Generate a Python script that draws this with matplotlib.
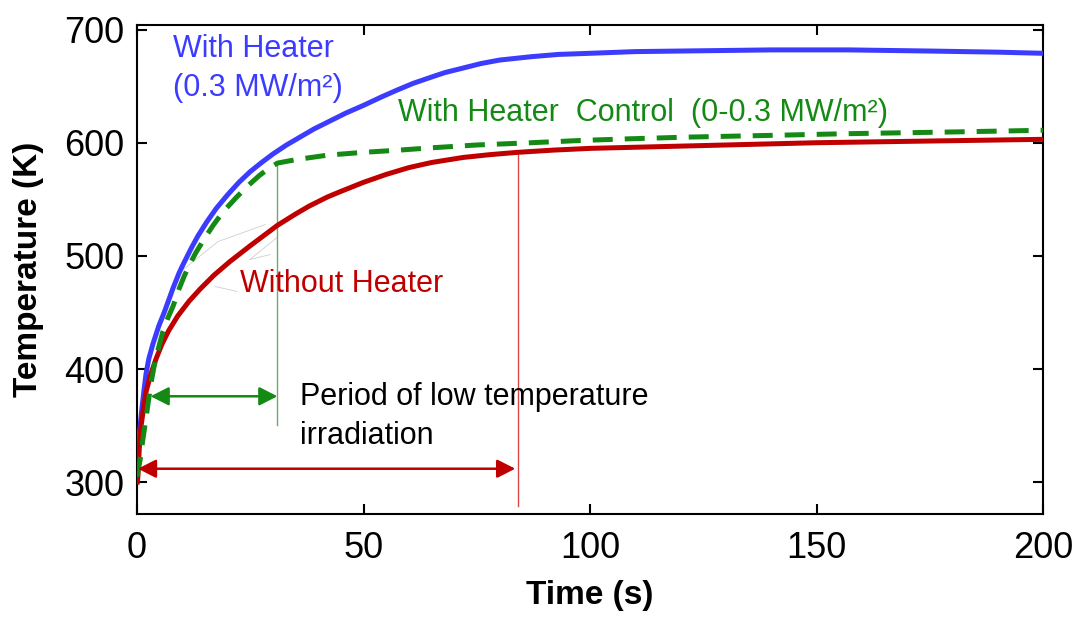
import matplotlib
matplotlib.use("Agg")
import matplotlib.pyplot as plt

# ---- data ----
t_heater = [0, 0.4, 1, 1.5, 2, 2.6, 3.5, 4.8, 6, 7, 8, 8.5, 9.3, 10, 11, 12, 13.5, 15.4,
            17.5, 20, 22.5, 25, 27.5, 30, 33, 36, 39, 43, 46, 50, 54, 57.4, 61, 65, 68,
            72, 76, 80, 87, 93, 100, 110, 120, 140, 157, 175, 190, 200]
T_heater = [318, 338, 362, 380, 396, 409, 422, 438, 450, 461, 472, 477, 485, 491, 499, 507, 518, 530,
            542, 554, 565, 574.5, 582.5, 590, 598, 605, 612, 620, 626, 633, 640.5, 646.5, 652.5, 658, 662,
            666, 670, 673, 676, 678, 679, 680.5, 681, 682, 682, 681, 680, 679]

t_control = [0, 0.7, 1.3, 2, 2.6, 3.2, 3.8, 4.7, 5.7, 6.8, 8, 9.2, 10.4, 11.7, 13, 15, 16.8,
             19, 22, 24.5, 27, 29, 31, 35, 42, 50, 58, 65, 75, 87, 98, 109, 122, 140, 157,
             180, 200]
T_control = [305, 320, 338, 357, 374, 390, 403, 418, 433, 445, 456, 470, 482, 493, 503, 516, 527,
             539, 552, 562, 571, 577, 582, 585, 589, 591.5, 593.5, 595.5, 598, 600, 602, 603.5, 605,
             606.5, 608, 609.5, 611]

t_noheater = [0, 0.2, 0.5, 0.9, 1.5, 2, 3, 4.2, 5.5, 7, 9, 11.5, 14, 17, 20.5, 25, 28, 31,
              35, 38, 42, 45, 50, 55, 60, 65, 72, 78, 84, 92, 100, 110, 120, 135, 150, 175, 200]
T_noheater = [298, 305, 330, 350, 367, 380, 395, 409, 422, 434, 447, 460, 471, 483, 495, 509, 518, 527,
              537, 544, 552, 557, 565, 572, 578, 582.5, 587, 589.5, 591.5, 593.5, 595, 596, 597,
              598.5, 600, 601.5, 603]

# period markers
t_green_end = 31
T_green_line = (351, 582)
t_red_end = 84
T_red_line = (279, 591)
green_arrow = (3, 31, 376)     # t_start, t_end, T
red_arrow = (0.2, 83.5, 312)

# faint leader lines seen in the reference
leaders = [
    ([10.2, 17.9, 28.3], [488, 512.7, 527.7]),
    ([24.9, 30.9], [496.8, 516.2]),
    ([24.9, 29.4], [496.8, 501.2]),
    ([17.2, 22.1], [473, 468.6]),
]

x_ticks = [0, 50, 100, 150, 200]
y_ticks = [300, 400, 500, 600, 700]

BLUE = "#3c3cff"
RED = "#c00000"
GREEN = "#148a14"

plt.rcParams['font.family'] = ['Liberation Sans', 'DejaVu Sans']

fig = plt.figure(figsize=(10.77, 6.19), dpi=100)
ax = fig.add_axes([137 / 1077, 1 - 514 / 619, (1043 - 137) / 1077, (514 - 25) / 619])

for xs, ys in leaders:
    ax.plot(xs, ys, color="#cfcfcf", lw=0.6, zorder=1)

ax.plot(t_heater, T_heater, color=BLUE, lw=3.6, solid_capstyle='butt',
        solid_joinstyle='round', zorder=3)
ax.plot(t_noheater, T_noheater, color=RED, lw=3.6, solid_capstyle='butt',
        solid_joinstyle='round', zorder=4)
ax.plot(t_control, T_control, color=GREEN, lw=3.6, linestyle=(0, (4, 2.4)),
        dash_joinstyle='round', zorder=5)

ax.plot([t_green_end, t_green_end], T_green_line, color="#6aaa6a", lw=1.0, zorder=2)
ax.plot([t_red_end, t_red_end], T_red_line, color="#d84848", lw=1.0, zorder=2)

for (a, b, y), col in ((green_arrow, GREEN), (red_arrow, RED)):
    ax.annotate('', xy=(b, y), xytext=(a, y),
                arrowprops=dict(arrowstyle='<|-|>,head_length=0.55,head_width=0.28',
                                color=col, lw=1.8, shrinkA=0, shrinkB=0,
                                mutation_scale=20), zorder=6)

ax.set_xlim(0, 200)
ax.set_ylim(272, 704)
ax.set_xticks(x_ticks)
ax.set_yticks(y_ticks)
ax.tick_params(direction='in', length=7, width=1.5, labelsize=26,
               top=True, right=True)
ax.tick_params(axis='x', pad=12)
ax.tick_params(axis='y', pad=9)
for s in ax.spines.values():
    s.set_linewidth(1.5)

ax.set_xlabel("Time (s)", fontsize=24, fontweight='bold')
ax.set_ylabel("Temperature (K)", fontsize=24, fontweight='bold')
ax.xaxis.set_label_coords(0.5, -0.135)
ax.yaxis.set_label_coords(-0.103, 0.5)

fs = 22
ax.text(7.9, 683, "With Heater", color=BLUE, fontsize=fs, ha='left', va='center')
ax.text(7.9, 648, "(0.3 MW/m²)", color=BLUE, fontsize=fs, ha='left', va='center')
ax.text(57.6, 626, "With Heater  Control  (0-0.3 MW/m²)", color=GREEN, fontsize=fs,
        ha='left', va='center')
ax.text(22.7, 475, "Without Heater", color=RED, fontsize=fs, ha='left', va='center')
ax.text(36, 375, "Period of low temperature", color='black', fontsize=fs, ha='left', va='center')
ax.text(36, 341, "irradiation", color='black', fontsize=fs, ha='left', va='center')

fig.savefig("out.png", dpi=100)
